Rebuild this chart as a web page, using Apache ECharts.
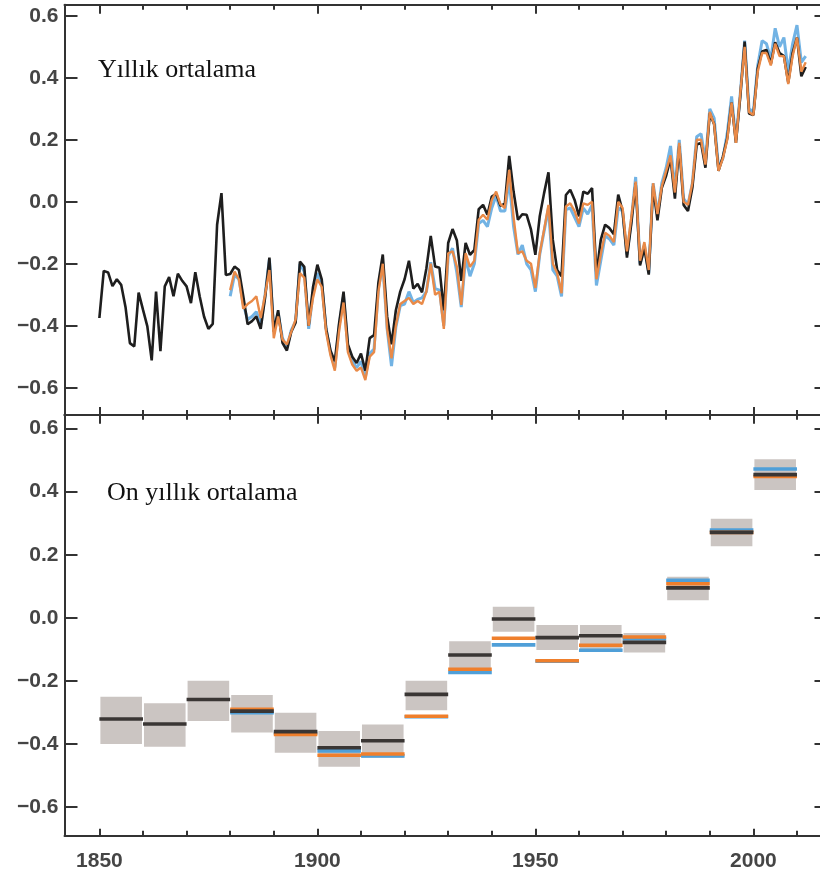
<!DOCTYPE html>
<html>
<head>
<meta charset="utf-8">
<script src="https://cdn.jsdelivr.net/npm/echarts@6/dist/echarts.min.js"></script>
<style>
  html, body { margin: 0; padding: 0; background: #ffffff; }
  #chart { width: 820px; height: 877px; }
</style>
</head>
<body>
<div id="chart"></div>
<script>
// ---------- DATA ----------
const hadcrutStart = 1850;
const hadcrutAnnual = [
  -0.375, -0.223, -0.228, -0.272, -0.250, -0.268, -0.340, -0.456, -0.467, -0.293,
  -0.348, -0.402, -0.512, -0.290, -0.482, -0.273, -0.243, -0.305, -0.232, -0.255,
  -0.273, -0.327, -0.227, -0.305, -0.370, -0.410, -0.394, -0.074,  0.028, -0.236,
  -0.233, -0.209, -0.220, -0.305, -0.395, -0.385, -0.370, -0.410, -0.310, -0.180,
  -0.418, -0.350, -0.455, -0.480, -0.420, -0.390, -0.193, -0.210, -0.400, -0.275,
  -0.203, -0.250, -0.410, -0.480, -0.515, -0.390, -0.290, -0.460, -0.500, -0.520,
  -0.490, -0.545, -0.440, -0.430, -0.260, -0.170, -0.370, -0.460, -0.350, -0.290,
  -0.250, -0.190, -0.280, -0.265, -0.292, -0.215, -0.110, -0.209, -0.213, -0.350,
  -0.133, -0.088, -0.125, -0.255, -0.133, -0.171, -0.155, -0.024, -0.010, -0.042,
   0.017,  0.026, -0.013, -0.006,  0.148,  0.033, -0.058, -0.040, -0.042, -0.090,
  -0.171, -0.047,  0.028,  0.095, -0.123, -0.220, -0.240,  0.022,  0.039,  0.006,
  -0.047,  0.033,  0.026,  0.044, -0.235, -0.123, -0.074, -0.085, -0.105,  0.023,
  -0.030, -0.180, -0.070,  0.060, -0.205, -0.150, -0.235,  0.050, -0.060,  0.045,
   0.085,  0.140,  0.010,  0.180, -0.010, -0.030,  0.045,  0.185,  0.190,  0.110,
   0.285,  0.250,  0.100,  0.145,  0.205,  0.320,  0.190,  0.340,  0.517,  0.285,
   0.280,  0.430,  0.485,  0.490,  0.445,  0.515,  0.480,  0.470,  0.385,  0.480,
   0.530,  0.405,  0.435
];
const otherStart = 1880;
const noaaAnnual = [
  -0.285, -0.225, -0.250, -0.345, -0.330, -0.320, -0.305, -0.375, -0.300, -0.220,
  -0.440, -0.370, -0.445, -0.460, -0.420, -0.380, -0.230, -0.245, -0.400, -0.310,
  -0.250, -0.275, -0.420, -0.495, -0.545, -0.415, -0.325, -0.485, -0.525, -0.545,
  -0.535, -0.575, -0.500, -0.485, -0.290, -0.200, -0.410, -0.505, -0.400, -0.330,
  -0.320, -0.310, -0.330, -0.320, -0.330, -0.290, -0.200, -0.300, -0.290, -0.410,
  -0.166, -0.160, -0.210, -0.333, -0.166, -0.210, -0.190, -0.058, -0.042, -0.058,
   0.006,  0.033, -0.008, -0.020,  0.103, -0.050, -0.166, -0.160, -0.190, -0.200,
  -0.278, -0.166, -0.090, -0.010, -0.200, -0.230, -0.295, -0.015, -0.005, -0.030,
  -0.070, -0.005, -0.010,  0.000, -0.250, -0.170, -0.100, -0.110, -0.130,  0.000,
  -0.020, -0.160, -0.050,  0.065, -0.190, -0.130, -0.220,  0.060, -0.040,  0.050,
   0.100,  0.150,  0.030,  0.190,  0.000, -0.010,  0.060,  0.200,  0.200,  0.120,
   0.290,  0.250,  0.100,  0.140,  0.200,  0.320,  0.190,  0.350,  0.500,  0.290,
   0.280,  0.420,  0.480,  0.480,  0.440,  0.510,  0.470,  0.470,  0.380,  0.470,
   0.530,  0.420,  0.450
];
const gissAnnual = [
  -0.305, -0.235, -0.250, -0.330, -0.380, -0.370, -0.355, -0.395, -0.300, -0.185,
  -0.420, -0.360, -0.440, -0.470, -0.415, -0.385, -0.200, -0.225, -0.410, -0.295,
  -0.230, -0.265, -0.410, -0.485, -0.535, -0.400, -0.305, -0.475, -0.515, -0.535,
  -0.515, -0.565, -0.490, -0.475, -0.280, -0.200, -0.410, -0.530, -0.405, -0.335,
  -0.330, -0.290, -0.325, -0.315, -0.310, -0.290, -0.195, -0.280, -0.285, -0.400,
  -0.175, -0.150, -0.230, -0.340, -0.180, -0.240, -0.200, -0.070, -0.060, -0.080,
  -0.020,  0.020, -0.030, -0.030,  0.070, -0.080, -0.170, -0.140, -0.200, -0.220,
  -0.290, -0.170, -0.095, -0.020, -0.220, -0.240, -0.305, -0.025, -0.020, -0.050,
  -0.080, -0.020, -0.040, -0.010, -0.270, -0.190, -0.110, -0.120, -0.140, -0.020,
  -0.030, -0.170, -0.060,  0.080, -0.200, -0.140, -0.230,  0.060, -0.040,  0.060,
   0.110,  0.180,  0.040,  0.200,  0.010, -0.010,  0.060,  0.210,  0.220,  0.130,
   0.300,  0.270,  0.110,  0.140,  0.220,  0.340,  0.200,  0.350,  0.520,  0.300,
   0.290,  0.440,  0.520,  0.510,  0.460,  0.560,  0.500,  0.530,  0.420,  0.510,
   0.570,  0.450,  0.470
];

const decades   = [1850, 1860, 1870, 1880, 1890, 1900, 1910, 1920, 1930, 1940, 1950, 1960, 1970, 1980, 1990, 2000];
const hadLow    = [-0.400, -0.409, -0.327, -0.364, -0.428, -0.472, -0.444, -0.293, -0.176, -0.044, -0.102, -0.108, -0.110, 0.056, 0.227, 0.405];
const hadHigh   = [-0.250, -0.271, -0.200, -0.245, -0.301, -0.359, -0.338, -0.200, -0.074, 0.035, -0.023, -0.023, -0.048, 0.130, 0.314, 0.503];
const hadMean   = [-0.321, -0.337, -0.259, -0.296, -0.361, -0.412, -0.390, -0.243, -0.118, -0.004, -0.063, -0.057, -0.078, 0.095, 0.271, 0.454];
const noaaMean  = [null, null, null, -0.290, -0.370, -0.436, -0.432, -0.312, -0.163, -0.065, -0.136, -0.087, -0.061, 0.108, 0.271, 0.448];
const gissMean  = [null, null, null, -0.301, -0.366, -0.422, -0.438, -0.314, -0.173, -0.086, -0.138, -0.103, -0.066, 0.119, 0.278, 0.472];

const yTicks = [-0.6, -0.4, -0.2, 0.0, 0.2, 0.4, 0.6];
const xMinorTicks = [1850, 1860, 1870, 1880, 1890, 1900, 1910, 1920, 1930, 1940, 1950, 1960, 1970, 1980, 1990, 2000, 2010];
const xMajorTicks = [1850, 1900, 1950, 2000];
const titleTop = 'Yıllık ortalama';
const titleBottom = 'On yıllık ortalama';

// ---------- BUILD ----------
function pairs(start, arr) { return arr.map((v, i) => [start + i, v]); }

const axisColor = '#333333';
const labelFont = { fontFamily: 'Liberation Sans, Arial, sans-serif', fontSize: 21, fontWeight: 'bold', color: '#454545' };
const fmtY = v => (v < -1e-9 ? '\u2212' : '') + Math.abs(v).toFixed(1);

function xAx(gridIndex, position, ticks, len, showLine, showLabel) {
  return {
    type: 'value', gridIndex, position, min: 1842, max: 2017,
    axisLine: { show: showLine, onZero: false, lineStyle: { color: axisColor, width: 2 } },
    axisTick: { show: true, inside: true, length: len, customValues: ticks, lineStyle: { color: axisColor, width: 2 } },
    axisLabel: showLabel ? Object.assign({ show: true, customValues: xMajorTicks, margin: 15, formatter: v => String(v) }, labelFont) : { show: false },
    splitLine: { show: false }
  };
}
function yAx(gridIndex, position, min, max, showLabel) {
  return {
    type: 'value', gridIndex, position, min, max,
    axisLine: { show: true, onZero: false, lineStyle: { color: axisColor, width: 2 } },
    axisTick: { show: true, inside: true, length: 13, customValues: yTicks, lineStyle: { color: axisColor, width: 2 } },
    axisLabel: showLabel ? Object.assign({ show: true, customValues: yTicks, margin: 6, formatter: fmtY }, labelFont) : { show: false },
    splitLine: { show: false }
  };
}

const boxColor = '#cbc5c2';
function boxItem(params, api) {
  const d0 = api.value(0);
  const p1 = api.coord([d0, api.value(2)]);
  const p2 = api.coord([d0 + 10, api.value(1)]);
  return { type: 'rect', shape: { x: p1[0] + 1, y: p1[1], width: p2[0] - p1[0] - 2, height: p2[1] - p1[1] }, style: { fill: boxColor } };
}
function barItem(color) {
  return function (params, api) {
    const v = api.value(1);
    if (v == null || isNaN(v)) return null;
    const d0 = api.value(0);
    const p1 = api.coord([d0, v]);
    const p2 = api.coord([d0 + 10, v]);
    return { type: 'line', shape: { x1: p1[0], y1: p1[1], x2: p2[0], y2: p2[1] }, style: { stroke: color, lineWidth: 3.6 } };
  };
}

const gridLeft = 64.5, gridWidth = 763;
const option = {
  backgroundColor: '#ffffff',
  animation: false,
  grid: [
    { left: gridLeft, width: gridWidth, top: 4.7, height: 410.3, containLabel: false, outerBoundsMode: 'none' },
    { left: gridLeft, width: gridWidth, top: 414.7, height: 421, containLabel: false, outerBoundsMode: 'none' }
  ],
  xAxis: [
    xAx(0, 'bottom', xMinorTicks, 5, true, false),
    xAx(0, 'bottom', xMajorTicks, 8, false, false),
    xAx(0, 'top', xMinorTicks, 5, true, false),
    xAx(0, 'top', xMajorTicks, 9, false, false),
    xAx(1, 'bottom', xMinorTicks, 5, true, false),
    xAx(1, 'bottom', xMajorTicks, 7, false, true),
    xAx(1, 'top', xMinorTicks, 5, true, false),
    xAx(1, 'top', xMajorTicks, 9, false, false)
  ],
  yAxis: [
    yAx(0, 'left', -0.688, 0.636, true),
    yAx(0, 'right', -0.688, 0.636, false),
    yAx(1, 'left', -0.691, 0.644, true),
    yAx(1, 'right', -0.691, 0.644, false)
  ],
  series: [
    { type: 'line', xAxisIndex: 0, yAxisIndex: 0, data: pairs(otherStart, gissAnnual), showSymbol: false, lineStyle: { color: '#72b3e4', width: 3 }, z: 2 },
    { type: 'line', xAxisIndex: 0, yAxisIndex: 0, data: pairs(hadcrutStart, hadcrutAnnual), showSymbol: false, lineStyle: { color: '#1e1e1e', width: 2.6 }, z: 3 },
    { type: 'line', xAxisIndex: 0, yAxisIndex: 0, data: pairs(otherStart, noaaAnnual), showSymbol: false, lineStyle: { color: '#e98a48', width: 2.4 }, z: 4 },

    { type: 'custom', xAxisIndex: 4, yAxisIndex: 2, renderItem: boxItem, data: decades.map((d, i) => [d, hadLow[i], hadHigh[i]]), z: 1 },
    { type: 'custom', xAxisIndex: 4, yAxisIndex: 2, renderItem: barItem('#4f9fd8'), data: decades.map((d, i) => [d, gissMean[i]]), z: 2 },
    { type: 'custom', xAxisIndex: 4, yAxisIndex: 2, renderItem: barItem('#ef7f2c'), data: decades.map((d, i) => [d, noaaMean[i]]), z: 3 },
    { type: 'custom', xAxisIndex: 4, yAxisIndex: 2, renderItem: barItem('#3a3634'), data: decades.map((d, i) => [d, hadMean[i]]), z: 4 }
  ],
  graphic: [
    { type: 'text', left: 98, top: 57, style: { text: titleTop, font: '26px "Liberation Serif", "Times New Roman", serif', fill: '#111' }, z: 10 },
    { type: 'text', left: 107, top: 480, style: { text: titleBottom, font: '26px "Liberation Serif", "Times New Roman", serif', fill: '#111' }, z: 10 }
  ]
};

const chart = echarts.init(document.getElementById('chart'), null, { renderer: 'canvas' });
chart.setOption(option);
</script>
</body>
</html>
